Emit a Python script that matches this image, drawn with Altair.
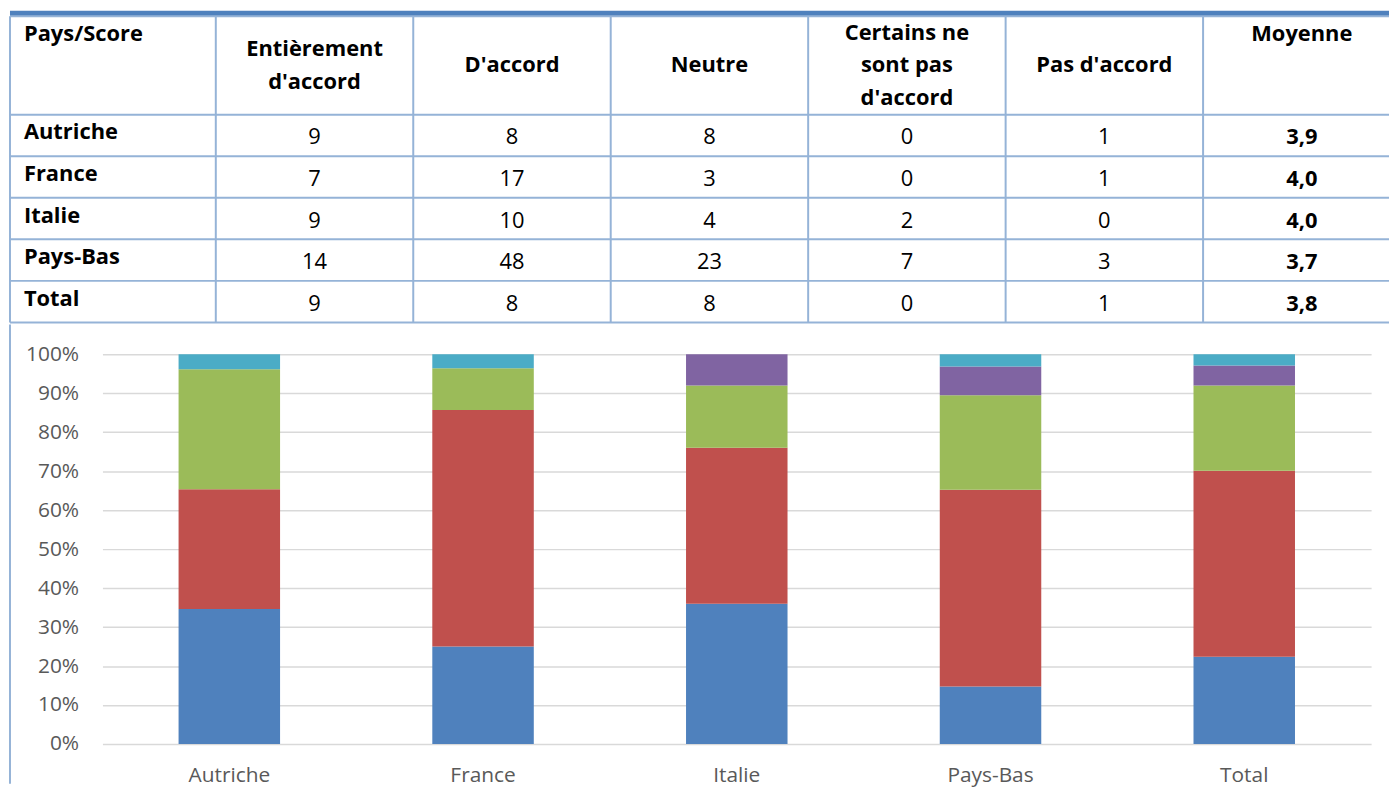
import altair as alt
import pandas as pd

# ---------------- data ----------------
categories = ["Autriche", "France", "Italie", "Pays-Bas", "Total"]
header_labels = ["Pays/Score", "Entièrement\nd'accord", "D'accord", "Neutre",
                 "Certains ne\nsont pas\nd'accord", "Pas d'accord", "Moyenne"]
series = ["Entièrement d'accord", "D'accord", "Neutre",
          "Certains ne sont pas d'accord", "Pas d'accord"]
series_colors = ["#4F81BD", "#C0504D", "#9BBB59", "#8064A2", "#4BACC6"]

# values shown in the table
tab_entierement = [9, 7, 9, 14, 9]
tab_daccord = [8, 17, 10, 48, 8]
tab_neutre = [8, 3, 4, 23, 8]
tab_certains = [0, 0, 2, 7, 0]
tab_pas = [1, 1, 0, 3, 1]
tab_moyenne = ["3,9", "4,0", "4,0", "3,7", "3,8"]

# values drawn in the 100% stacked bars (Total bar = sum of the countries)
bar_entierement = [9, 7, 9, 14, 39]
bar_daccord = [8, 17, 10, 48, 83]
bar_neutre = [8, 3, 4, 23, 38]
bar_certains = [0, 0, 2, 7, 9]
bar_pas = [1, 1, 0, 3, 5]

# ---------------- layout ----------------
FONT = "Open Sans"
TFONT_SIZE = 22
AXIS_FONT_SIZE = 21
LINE_H = 33
BORDER = "#95B3D7"
TITLE_BLUE = "#4F81BD"
AXIS_GREY = "#595959"
GRID_GREY = "#D9D9D9"
COL_PX = 198.6
FIRST_COL_PX = 207.0
LEFT_PX = 93.0
ROW_PX = 41.8
HEADER_PX = 99.0
TITLE_PX = 5.6
TABLE_W = 1294
BAR_W = 1276
BAR_H = 392

col1_px = FIRST_COL_PX - LEFT_PX
D0 = 1 - col1_px / COL_PX
D1 = D0 + TABLE_W / COL_PX
XL = 1 - FIRST_COL_PX / COL_PX
HH = HEADER_PX / ROW_PX
NROWS = len(categories)
NCOLS = len(header_labels)
YTOT = HH + NROWS
TABLE_H = YTOT * ROW_PX

xs = alt.Scale(domain=[D0, D1], nice=False, zero=False)
ys = alt.Scale(domain=[0, YTOT], reverse=True, nice=False, zero=False)

# ---------------- table ----------------
title_df = pd.DataFrame({"x0": [XL], "x1": [D1], "y0": [-TITLE_PX / ROW_PX], "y1": [0.0]})
vlines_df = pd.DataFrame({"x": [XL] + list(range(1, NCOLS)), "y0": 0.0, "y1": YTOT})
hlines_df = pd.DataFrame({"y": [0.0] + [HH + r for r in range(NROWS + 1)], "x0": XL, "x1": D1})

top_aligned = {0, NCOLS - 1}
hdr_df = pd.DataFrame({"label": header_labels, "col": list(range(NCOLS))})
hdr_df["x"] = [XL if c == 0 else c + 0.5 for c in hdr_df["col"]]
hdr_df["y"] = [
    18 / ROW_PX if c in top_aligned
    else HH / 2 - (lab.count("\n") * LINE_H / 2) / ROW_PX
    for c, lab in zip(hdr_df["col"], hdr_df["label"])
]

table_cols = [tab_entierement, tab_daccord, tab_neutre, tab_certains, tab_pas]
names, vals, means = [], [], []
for r, name in enumerate(categories):
    top = HH + r
    names.append({"label": name, "x": XL, "y": top + 18 / ROW_PX})
    for c, col in enumerate(table_cols, start=1):
        vals.append({"label": str(col[r]), "x": c + 0.5, "y": top + 23 / ROW_PX})
    means.append({"label": tab_moyenne[r], "x": NCOLS - 0.5, "y": top + 23 / ROW_PX})
names_df, vals_df, means_df = pd.DataFrame(names), pd.DataFrame(vals), pd.DataFrame(means)


def xy(df_chart):
    return df_chart.encode(
        x=alt.X("x:Q", scale=xs, axis=None),
        y=alt.Y("y:Q", scale=ys, axis=None),
        text="label:N",
    )


title_bar = alt.Chart(title_df).mark_rect(color=TITLE_BLUE).encode(
    x=alt.X("x0:Q", scale=xs, axis=None), x2="x1:Q",
    y=alt.Y("y0:Q", scale=ys, axis=None), y2="y1:Q")
vlines = alt.Chart(vlines_df).mark_rule(color=BORDER, strokeWidth=2).encode(
    x=alt.X("x:Q", scale=xs, axis=None),
    y=alt.Y("y0:Q", scale=ys, axis=None), y2="y1:Q")
hlines = alt.Chart(hlines_df).mark_rule(color=BORDER, strokeWidth=2).encode(
    x=alt.X("x0:Q", scale=xs, axis=None), x2="x1:Q",
    y=alt.Y("y:Q", scale=ys, axis=None))

hdr_first = xy(alt.Chart(hdr_df[hdr_df["col"] == 0]).mark_text(
    align="left", baseline="middle", dx=14, font=FONT, fontSize=TFONT_SIZE, fontWeight="bold",
    color="#000000"))
hdr_rest = xy(alt.Chart(hdr_df[hdr_df["col"] > 0]).mark_text(
    align="center", baseline="middle", lineBreak="\n", lineHeight=LINE_H, font=FONT,
    fontSize=TFONT_SIZE, fontWeight="bold", color="#000000"))
row_names = xy(alt.Chart(names_df).mark_text(
    align="left", baseline="middle", dx=14, font=FONT, fontSize=TFONT_SIZE, fontWeight="bold",
    color="#000000"))
row_vals = xy(alt.Chart(vals_df).mark_text(
    align="center", baseline="middle", font=FONT, fontSize=TFONT_SIZE, color="#000000"))
row_means = xy(alt.Chart(means_df).mark_text(
    align="center", baseline="middle", font=FONT, fontSize=TFONT_SIZE, fontWeight="bold",
    color="#000000"))

table = alt.layer(title_bar, vlines, hlines, hdr_first, hdr_rest, row_names, row_vals, row_means).properties(
    width=TABLE_W, height=TABLE_H)

# ---------------- stacked bars ----------------
bar_cols = [bar_entierement, bar_daccord, bar_neutre, bar_certains, bar_pas]
bar_df = pd.DataFrame([
    {"pays": categories[i], "serie": s, "k": k, "n": bar_cols[k][i]}
    for k, s in enumerate(series) for i in range(len(categories))
])

bars = alt.Chart(bar_df).mark_bar().encode(
    x=alt.X("pays:N", sort=categories,
            scale=alt.Scale(paddingInner=0.6, paddingOuter=0.3),
            axis=alt.Axis(title=None, labelAngle=0, domain=False, ticks=False, tickSize=0,
                          labelPadding=32, labelBaseline="middle", labelFont=FONT,
                          labelFontSize=AXIS_FONT_SIZE, labelColor=AXIS_GREY, grid=False)),
    y=alt.Y("n:Q", stack="normalize", scale=alt.Scale(domain=[0, 1], nice=False),
            axis=alt.Axis(title=None, format=".0%", values=[i / 10 for i in range(11)],
                          domain=False, ticks=False, tickSize=0, labelPadding=24,
                          labelFont=FONT, labelFontSize=AXIS_FONT_SIZE, labelColor=AXIS_GREY,
                          grid=True, gridColor=GRID_GREY, gridWidth=1.5)),
    color=alt.Color("serie:N", scale=alt.Scale(domain=series, range=series_colors), legend=None),
    order=alt.Order("k:Q", sort="ascending"),
)

frame = alt.Chart(pd.DataFrame({"f": [0]})).mark_rule(color=BORDER, strokeWidth=2).encode(
    x=alt.value(-LEFT_PX), y=alt.value(-30), y2=alt.value(BAR_H + 40))

bar_chart = alt.layer(bars, frame).properties(width=BAR_W, height=BAR_H)

chart = alt.vconcat(table, bar_chart, spacing=0).properties(padding=0).configure(
    font=FONT).configure_view(stroke=None)

chart.save("out.html", embed_options={"renderer": "svg", "actions": False})
